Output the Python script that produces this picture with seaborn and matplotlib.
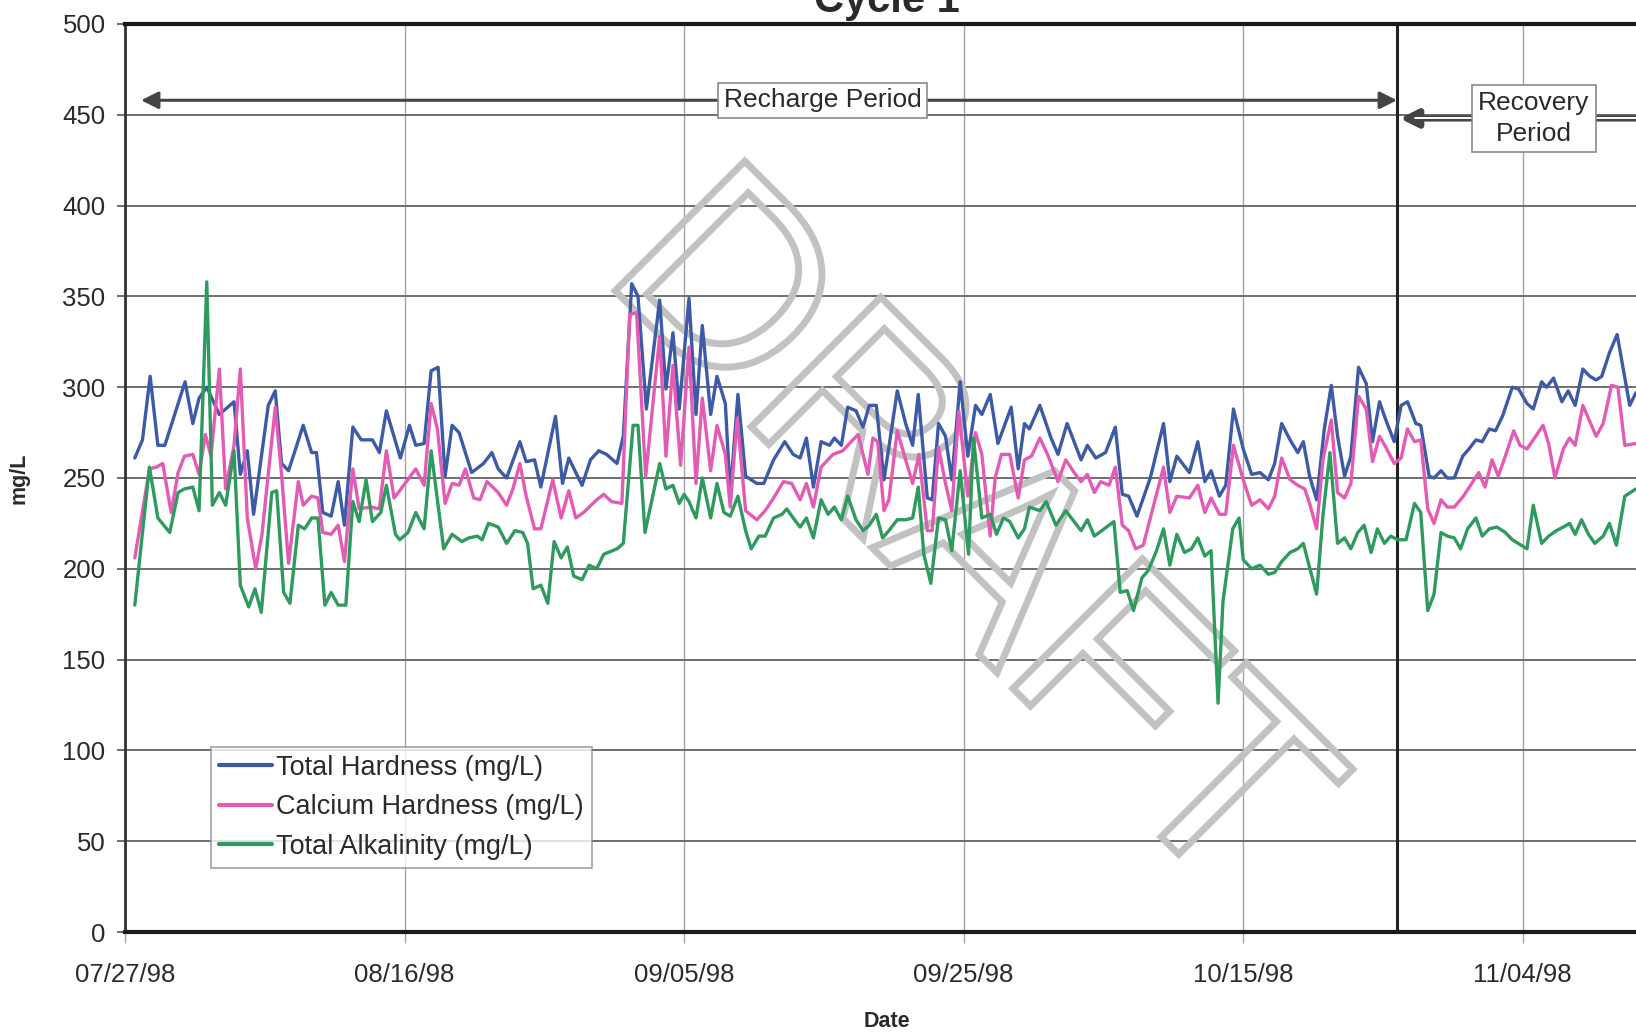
import matplotlib
matplotlib.use("Agg")
import numpy as np
import pandas as pd
import matplotlib.pyplot as plt
import matplotlib.transforms as mtransforms
from matplotlib.lines import Line2D
from matplotlib.textpath import TextPath
from matplotlib.patches import PathPatch
from matplotlib.font_manager import FontProperties
import seaborn as sns

START = pd.Timestamp("1998-07-27")

# Sample times in days after 07/27/98 and the measured concentrations (mg/L)
th_days = [0.7, 1.25, 1.8, 2.35, 2.85, 4.3, 4.85, 5.3, 5.85, 6.75, 7.2, 7.8, 8.25, 8.75, 9.2, 10.25,
           10.75, 11.2, 11.7, 12.75, 13.35, 13.7, 14.15, 14.75, 15.25, 15.7, 16.3, 16.9, 17.7, 18.2,
           18.7, 19.7,
           20.35, 20.8, 21.4, 21.9, 22.4, 22.9, 23.4, 23.9, 24.8, 25.65, 26.25, 26.7, 27.3, 28.25,
           28.7, 29.3, 29.75, 30.8, 31.3, 31.75, 32.25, 32.7, 33.3, 33.9, 34.45, 35.2, 35.65, 36.25,
           36.7, 37.3, 38.25, 38.7, 39.2, 39.65,
           40.35, 40.85, 41.3, 41.9, 42.35, 42.95, 43.3, 43.85, 44.4, 45.2, 45.7, 46.4, 47.2, 47.8,
           48.3, 48.75, 49.25, 49.8, 50.4, 50.75, 51.25, 51.7, 52.3, 52.8, 53.25, 53.75, 54.3, 55.25,
           55.85, 56.35, 56.75, 57.4, 57.75, 58.2, 58.7, 59.15, 59.75,
           60.3, 60.85, 61.3, 61.9, 62.45, 63.4, 63.9, 64.35, 64.7, 65.45, 66.25, 66.75, 67.4, 67.9,
           68.4, 68.85, 69.45, 70.15, 70.85, 71.35, 71.8, 72.4, 73.35, 74.3, 74.75, 75.25, 76.15,
           76.75, 77.25, 77.7, 78.3, 78.75, 79.3,
           80.0, 80.6, 81.2, 81.8, 82.25, 82.75, 83.35, 83.9, 84.3, 84.75, 85.25, 85.8, 86.3, 86.75,
           87.25, 87.7, 88.25, 88.8, 89.25, 89.75, 90.2, 90.8, 91.3, 91.75, 92.35, 92.7, 93.3, 93.65,
           94.15, 94.6, 95.1, 95.7, 96.15, 96.65, 97.1, 97.6, 98.05, 98.55, 99.25, 99.7,
           100.3, 100.75, 101.35, 101.7, 102.2, 102.8, 103.25, 103.75, 104.3, 104.8, 105.25, 105.65,
           106.2, 106.75, 107.65, 108.1]
th_vals = [261, 271, 306, 268, 268, 303, 280, 294, 300, 285, 288, 292, 252, 265, 230, 290,
           298, 258, 254, 279, 264, 264, 231, 229, 248, 224, 278, 271, 271, 264,
           287, 261,
           279, 268, 269, 309, 311, 251, 279, 275, 253, 258, 264, 255, 250, 270,
           259, 260, 245, 284, 247, 261, 253, 246, 260, 265, 263, 258, 273, 357,
           350, 288, 348, 299, 330, 288,
           349, 285, 334, 285, 306, 291, 241, 296, 251, 247, 247, 260, 270, 263,
           261, 272, 245, 270, 268, 272, 268, 289, 287, 278, 290, 290, 249, 298,
           280, 268, 296, 239, 238, 280, 273, 249, 303,
           262, 290, 285, 296, 269, 289, 255, 280, 277, 290, 272, 263, 280, 270,
           260, 268, 261, 264, 278, 241, 240, 229, 250, 280, 248, 262, 253,
           270, 248, 254, 240, 246, 288,
           266, 252, 253, 249, 258, 280, 271, 264, 270, 251, 238, 277, 301, 273,
           251, 262, 311, 302, 270, 292, 282, 270, 290, 292, 280, 279, 251, 250,
           254, 250, 250, 262, 266, 271, 270, 277, 276, 284, 300, 299,
           291, 288, 303, 300, 305, 292, 298, 290, 310, 306, 304, 306,
           319, 329, 290, 297]

ch_days = [0.7, 1.75, 2.25, 2.7, 3.3, 3.8, 4.25, 4.85, 5.3, 5.75, 6.15, 6.75, 7.2, 7.8, 8.25, 8.75,
           9.35, 9.8, 10.75, 11.2, 11.7, 12.4, 12.75, 13.35, 13.8, 14.15, 14.75, 15.25, 15.7, 16.3,
           16.75, 17.6, 18.2, 18.7, 19.25,
           19.65, 20.8, 21.4, 21.9, 22.35, 22.9, 23.4, 23.9, 24.35, 24.95, 25.4, 25.9, 26.7, 27.3,
           27.75, 28.25, 28.7, 29.3, 29.75, 30.6, 31.2, 31.75, 32.25, 32.8, 33.75, 34.25, 34.8, 35.55,
           36.1, 36.6, 37.25, 38.25, 38.7, 39.2, 39.75,
           40.35, 40.85, 41.3, 41.9, 42.35, 42.95, 43.3, 43.8, 44.4, 45.2, 45.8, 46.4, 47.1, 47.7,
           48.3, 48.75, 49.25, 49.8, 50.65, 51.35, 51.95, 52.45, 53.15, 53.5, 53.85, 54.3, 54.65,
           55.25, 55.85, 56.35, 56.8, 57.4, 57.75, 58.2, 58.7, 59.15, 59.65,
           60.3, 60.85, 61.3, 61.9, 62.25, 62.7, 63.3, 63.9, 64.35, 64.85, 65.45, 66.0, 66.75, 67.3,
           67.9, 68.4, 68.85, 69.35, 69.8, 70.4, 70.85, 71.35, 71.8, 72.3, 72.85, 74.3, 74.75, 75.25,
           76.15, 76.75, 77.25, 77.7, 78.3, 78.75, 79.3,
           80.0, 80.6, 81.2, 81.8, 82.25, 82.75, 83.35, 83.9, 84.4, 84.75, 85.25, 85.7, 86.3, 86.75,
           87.25, 87.7, 88.25, 88.8, 89.25, 89.75, 90.2, 90.8, 91.3, 91.75, 92.25, 92.7, 93.2, 93.65,
           94.15, 94.6, 95.1,
           95.75, 96.35, 96.85, 97.3, 97.8, 98.25, 98.75, 99.35, 99.8, 100.3, 100.75, 101.45, 101.85,
           102.3, 102.9, 103.35, 103.75, 104.3, 105.25, 105.75, 106.35, 106.8, 107.3, 108.1]
ch_vals = [206, 255, 256, 258, 231, 253, 262, 263, 252, 274, 262, 310, 244, 268, 310, 228,
           200, 219, 289, 252, 203, 248, 235, 240, 239, 220, 219, 224, 204, 255,
           233, 234, 233, 265, 239,
           243, 255, 246, 291, 277, 236, 247, 246, 255, 239, 238, 248, 242, 235,
           244, 258, 240, 222, 222, 249, 228, 243, 228, 231, 238, 241, 237, 236,
           340, 341, 251, 328, 262, 312, 257,
           322, 247, 294, 254, 279, 263, 234, 283, 232, 227, 232, 239, 248, 247,
           238, 247, 234, 256, 263, 265, 270, 274, 252, 272, 270, 232, 238,
           276, 260, 247, 263, 221, 221, 267, 247, 232, 287,
           240, 275, 263, 218, 250, 263, 263, 239, 260, 262, 272, 263, 248, 260,
           253, 248, 252, 242, 248, 246, 256, 224, 221, 211, 213, 256, 231, 240,
           239, 246, 231, 239, 230, 230, 268,
           249, 235, 238, 233, 240, 261, 249, 246, 244, 236, 222, 260, 282, 242,
           239, 247, 295, 288, 259, 273, 267, 258, 261, 277, 270, 271, 233, 225,
           238, 234, 234,
           240, 247, 253, 245, 260, 251, 262, 276, 268, 266, 271, 279, 269,
           250, 266, 272, 268, 290, 273, 280, 301, 300, 268, 269]

ta_days = [0.7, 1.75, 2.35, 3.2, 3.8, 4.25, 4.85, 5.3, 5.85, 6.25, 6.75, 7.2, 7.8, 8.25, 8.85, 9.3,
           9.75, 10.5, 10.85, 11.35, 11.8, 12.4, 12.85, 13.35, 13.8, 14.3, 14.75, 15.25, 15.8, 16.3,
           16.75, 17.25, 17.7, 18.3, 18.7, 19.35,
           19.65, 20.25, 20.8, 21.4, 21.9, 22.8, 23.4, 24.1, 24.6, 25.2, 25.55, 26.0, 26.7, 27.3,
           27.9, 28.45, 28.8, 29.2, 29.75, 30.25, 30.7, 31.2, 31.65, 32.1, 32.7, 33.2, 33.75, 34.25,
           35.2, 35.65, 36.35, 36.7, 37.2, 38.25, 38.7, 39.2, 39.65,
           40.0, 40.35, 40.85, 41.3, 41.9, 42.35, 42.85, 43.3, 43.85, 44.4, 44.8, 45.35, 45.8, 46.4,
           47.0, 47.35, 47.8, 48.3, 48.75, 49.25, 49.8, 50.3, 50.75, 51.25, 51.7, 52.3, 52.8, 53.25,
           53.75, 54.2, 54.65, 55.25, 55.85, 56.35, 56.75, 57.15, 57.65, 58.2, 58.7, 59.15, 59.75,
           60.35, 60.7, 61.3, 61.9, 62.35, 62.85, 63.3, 63.9, 64.35, 64.7, 65.45, 65.9, 66.6, 67.3,
           67.9, 68.4, 68.85, 69.35, 70.05, 70.75, 71.2, 71.7, 72.15, 72.75, 73.2, 73.8, 74.3, 74.75,
           75.25, 75.8, 76.3, 76.75, 77.25, 77.7, 78.2, 78.55, 79.25, 79.7,
           80.0, 80.6, 81.2, 81.8, 82.25, 82.75, 83.35, 83.9, 84.3, 85.25, 85.7, 86.2, 86.75, 87.25,
           87.7, 88.2, 88.65, 89.15, 89.6, 90.1, 90.55, 91.05, 91.65, 92.25, 92.7, 93.2, 93.65, 94.15,
           94.6, 95.1, 95.55, 96.05, 96.65, 97.1, 97.6, 98.15, 98.75, 99.25,
           100.3, 100.75, 101.35, 101.85, 102.4, 102.9, 103.35, 103.75, 104.2, 104.7, 105.15, 105.75,
           106.2, 106.7, 107.3, 108.1]
ta_vals = [180, 256, 228, 220, 242, 244, 245, 232, 358, 235, 242, 235, 265, 191, 179, 189,
           176, 242, 243, 187, 181, 224, 222, 228, 228, 180, 187, 180, 180, 237,
           226, 249, 226, 231, 246, 219,
           216, 220, 231, 222, 265, 211, 219, 215, 217, 218, 216, 225, 223, 214,
           221, 220, 214, 189, 191, 181, 215, 206, 212, 196, 194, 202, 200, 208,
           211, 214, 279, 279, 220, 258, 244, 246, 236,
           241, 237, 228, 250, 228, 247, 231, 229, 240, 221, 211, 218, 218, 228,
           230, 233, 228, 223, 228, 217, 238, 230, 234, 227, 240, 227, 221, 224,
           230, 217, 221, 227, 227, 228, 245, 208, 192, 228, 227, 210, 254,
           208, 272, 228, 230, 219, 228, 226, 217, 222, 234, 232, 237, 224, 232,
           226, 221, 227, 218, 222, 226, 187, 188, 177, 195, 199, 210, 222, 202,
           219, 209, 211, 217, 207, 210, 126, 182, 222, 228,
           205, 200, 202, 197, 198, 204, 209, 211, 214, 186, 229, 264, 214, 217,
           211, 220, 224, 209, 222, 214, 218, 216, 216, 236, 231, 177, 186, 220,
           218, 217, 211, 222, 228, 218, 222, 223, 220, 216,
           211, 235, 214, 218, 221, 223, 225, 219, 227, 219, 214, 218,
           225, 213, 240, 244]

series_labels = ["Total Hardness (mg/L)", "Calcium Hardness (mg/L)", "Total Alkalinity (mg/L)"]
series_colors = ["#3d5aa6", "#e35bb4", "#2f9a5e"]
tick_labels = ["07/27/98", "08/16/98", "09/05/98", "09/25/98", "10/15/98", "11/04/98"]
y_ticks = list(range(0, 501, 50))
recovery_start_day = 91.0
x_end_day = 108.1

frames = []
for lab, d, v in zip(series_labels, [th_days, ch_days, ta_days], [th_vals, ch_vals, ta_vals]):
    frames.append(pd.DataFrame({
        "Date": START + pd.to_timedelta(np.asarray(d), unit="D"),
        "mg/L": v,
        "series": lab,
    }))
df = pd.concat(frames, ignore_index=True)

sns.set_theme(style="white")
plt.rcParams["font.family"] = ["Liberation Sans", "DejaVu Sans"]

W, H = 1636, 1035
fig = plt.figure(figsize=(W / 100, H / 100), dpi=100)
ax_left, ax_top, ax_bottom = 125, 24, 932
ax = fig.add_axes([ax_left / W, 1 - ax_bottom / H, 1 - ax_left / W, (ax_bottom - ax_top) / H])

sns.lineplot(data=df, x="Date", y="mg/L", hue="series", hue_order=series_labels,
             palette=dict(zip(series_labels, series_colors)), estimator=None, sort=True,
             linewidth=2.4, legend=False, ax=ax, zorder=3)

def day(d):
    return START + pd.Timedelta(days=d)

ax.set_xlim(day(0), day(x_end_day))
ax.set_ylim(0, 500)

ax.set_xticks(pd.to_datetime(tick_labels, format="%m/%d/%y"))
ax.set_xticklabels(tick_labels)
ax.set_yticks(y_ticks)
ax.set_yticklabels([str(t) for t in y_ticks])

ax.set_axisbelow(True)
ax.yaxis.grid(True, color="#6e6e6e", linewidth=1.4)
ax.xaxis.grid(True, color="#a4a4a4", linewidth=1.0)

for side in ("top", "bottom"):
    ax.spines[side].set_color("#1a1a1a")
    ax.spines[side].set_linewidth(3.0)
ax.spines["left"].set_color("#333333")
ax.spines["left"].set_linewidth(2.0)
ax.spines["right"].set_visible(False)

ax.tick_params(axis="y", direction="out", length=6, width=1.2, color="#555555",
               labelsize=18.5, labelcolor="#2a2a2a", pad=8, left=True)
ax.tick_params(axis="x", direction="out", length=8, width=1.0, color="#a4a4a4",
               labelsize=18.5, labelcolor="#2a2a2a", pad=14, bottom=True)

ax.set_ylabel("mg/L", fontsize=15.5, fontweight="bold", color="#2a2a2a")
ax.yaxis.set_label_coords(-0.0635, 0.5)
ax.set_xlabel("Date", fontsize=15.5, fontweight="bold", color="#2a2a2a")
ax.xaxis.set_label_coords(0.504, -0.087)

# Boundary between the recharge and recovery periods
ax.axvline(day(recovery_start_day), color="#222222", linewidth=2.2, zorder=2.5)

# Period annotations
ax.annotate("", xy=(day(1.15), 458), xytext=(day(recovery_start_day), 458),
            arrowprops=dict(arrowstyle="<|-|>", color="#444444", lw=2.2,
                            mutation_scale=26, shrinkA=0, shrinkB=0), zorder=4)
ax.text(day(49.9), 458, "Recharge Period", ha="center", va="center", fontsize=19,
        color="#2a2a2a", zorder=5,
        bbox=dict(boxstyle="square,pad=0.2", facecolor="white", edgecolor="#8a8a8a", lw=1.2))

ax.annotate("", xy=(day(recovery_start_day + 0.2), 448), xytext=(day(x_end_day + 2), 448),
            arrowprops=dict(arrowstyle="-|>", color="#444444", lw=4.5,
                            mutation_scale=26, shrinkA=0, shrinkB=0), zorder=4,
            annotation_clip=False)
ax.plot([day(recovery_start_day + 1.3), day(x_end_day + 2)], [448, 448], color="white",
        lw=1.4, zorder=4.1, clip_on=True)
ax.text(day(100.8), 448, "Recovery\nPeriod", ha="center", va="center", fontsize=19,
        color="#2a2a2a", zorder=5, linespacing=1.35,
        bbox=dict(boxstyle="square,pad=0.25", facecolor="white", edgecolor="#8a8a8a", lw=1.2))

# Legend
handles = [Line2D([0], [0], color=c, lw=3) for c in series_colors]
leg = ax.legend(handles, series_labels, loc="lower left",
                bbox_to_anchor=((211 - ax_left) / (W - ax_left), (ax_bottom - 868) / (ax_bottom - ax_top)),
                borderaxespad=0, fontsize=19.5, handlelength=1.95, handletextpad=0.15,
                labelspacing=0.5, borderpad=0.3, fancybox=False, frameon=True,
                labelcolor="#2a2a2a")
leg.get_frame().set_edgecolor("#8a8a8a")
leg.get_frame().set_linewidth(1.2)
leg.set_zorder(6)

# Watermark
fp = FontProperties(family="Liberation Sans")
tp = TextPath((0, 0), "DRAFT", size=100, prop=fp)
ext = tp.get_extents()
scale = 860 / ext.width
wm_tr = (mtransforms.Affine2D()
         .translate(-(ext.x0 + ext.width / 2), -(ext.y0 + ext.height / 2))
         .scale(scale)
         .rotate_deg(-45)
         .translate(984, H - 530))
wm = PathPatch(tp, transform=wm_tr, facecolor="none", edgecolor="#c2c2c2", lw=5.0, zorder=1.5)
ax.add_artist(wm)

# Title sits partly above the page edge
fig.text(887 / W, 1 - 12 / H, "Cycle 1", ha="center", va="baseline", fontsize=30,
         fontweight="bold", color="#2a2a2a")

fig.savefig("out.png", dpi=100)
